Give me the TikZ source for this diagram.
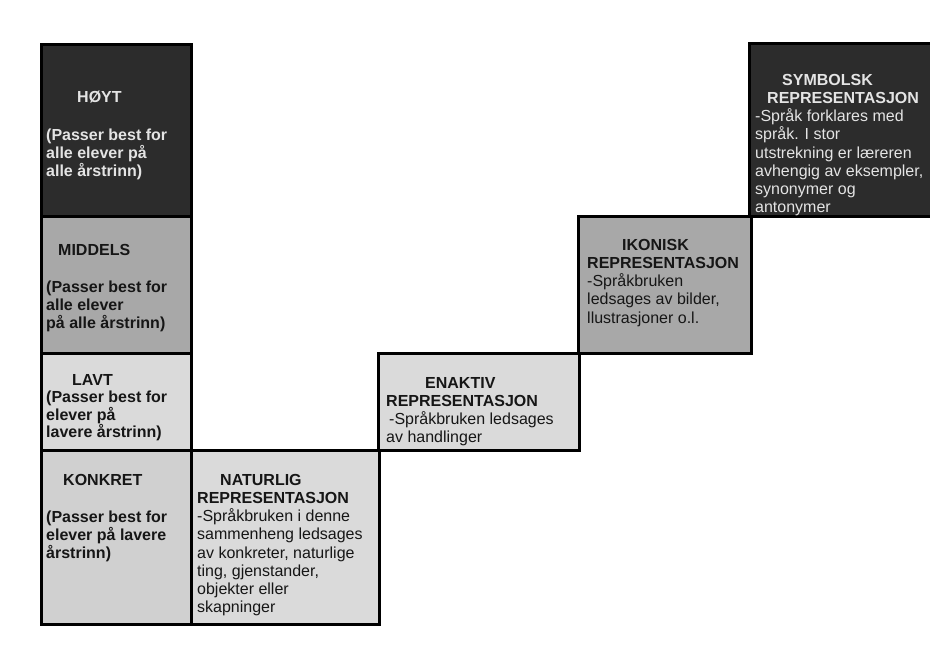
\documentclass[tikz,border=0pt]{standalone}
\usepackage{fontspec}
\setmainfont{Liberation Sans}
\definecolor{darkcell}{HTML}{2C2C2C}
\definecolor{midcell}{HTML}{A8A8A8}
\definecolor{lightcell}{HTML}{DADADA}
\definecolor{konkcell}{HTML}{D0D0D0}
\definecolor{ink}{HTML}{161616}
\definecolor{paper}{HTML}{E4E4E4}
\begin{document}
\begin{tikzpicture}[x=1pt,y=-1pt,
  cell/.style={draw=black, line width=3.2pt, inner sep=0pt, anchor=north west},
  txt/.style={anchor=north west, inner sep=0pt, align=left,
    font=\fontsize{16}{18.2}\selectfont, text=ink},
  txtw/.style={txt, text=paper}]
\useasboundingbox (0,0) rectangle (930,651);
\fill[white] (0,0) rectangle (930,651);
% boxes
\node[cell, fill=darkcell, minimum width=150pt, minimum height=172pt] (hoyt) at (40,43) {};
\node[cell, fill=midcell, minimum width=150pt, minimum height=137pt] (middels) at (40,215) {};
\node[cell, fill=lightcell, minimum width=150pt, minimum height=97pt] (lavt) at (40,352) {};
\node[cell, fill=konkcell, minimum width=150pt, minimum height=174pt] (konkret) at (40,449) {};
\node[cell, fill=lightcell, minimum width=188pt, minimum height=174pt] (naturlig) at (190,449) {};
\node[cell, fill=lightcell, minimum width=201pt, minimum height=97pt] (enaktiv) at (377,352) {};
\node[cell, fill=midcell, minimum width=173pt, minimum height=137pt] (ikonisk) at (577,215) {};
\node[cell, fill=darkcell, minimum width=200pt, minimum height=173pt] (symbolsk) at (748,42) {};
% texts
\node[txtw, font=\bfseries\fontsize{16}{18}\selectfont] (hoytT) at (46,91)
  {\hspace*{31pt}HØYT\\[20pt](Passer best for\\alle elever på\\alle årstrinn)};
\node[txt, font=\bfseries\fontsize{16}{18}\selectfont] (middelsT) at (46,244)
  {\hspace*{12pt}MIDDELS\\[19pt](Passer best for\\alle elever\\på alle årstrinn)};
\node[txt, font=\bfseries\fontsize{16}{17.5}\selectfont] (lavtT) at (46,374)
  {\hspace*{26pt}LAVT\\(Passer best for\\elever på\\lavere årstrinn)};
\node[txt, font=\bfseries\fontsize{16}{18}\selectfont] (konkretT) at (46,474)
  {\hspace*{17pt}KONKRET\\[19pt](Passer best for\\elever på lavere\\årstrinn)};
\node[txt] (naturligT) at (197,474)
  {\hspace*{23pt}\textbf{NATURLIG}\\\textbf{REPRESENTASJON}\\-Språkbruken i denne\\sammenheng ledsages\\av konkreter, naturlige\\ting, gjenstander,\\objekter eller\\skapninger};
\node[txt] (enaktivT) at (386,377)
  {\hspace*{39pt}\textbf{ENAKTIV}\\\textbf{REPRESENTASJON}\\\hspace*{3pt}-Språkbruken ledsages\\av handlinger};
\node[txt] (ikoniskT) at (587,239)
  {\hspace*{35pt}\textbf{IKONISK}\\\textbf{REPRESENTASJON}\\-Språkbruken\\ledsages av bilder,\\llustrasjoner o.l.};
\node[txtw] (symbolskT) at (755,74)
  {\hspace*{27pt}\textbf{SYMBOLSK}\\\hspace*{12pt}\textbf{REPRESENTASJON}\\-Språk forklares med\\språk. I stor\\utstrekning er læreren\\avhengig av eksempler,\\synonymer og\\antonymer};
\end{tikzpicture}
\end{document}
